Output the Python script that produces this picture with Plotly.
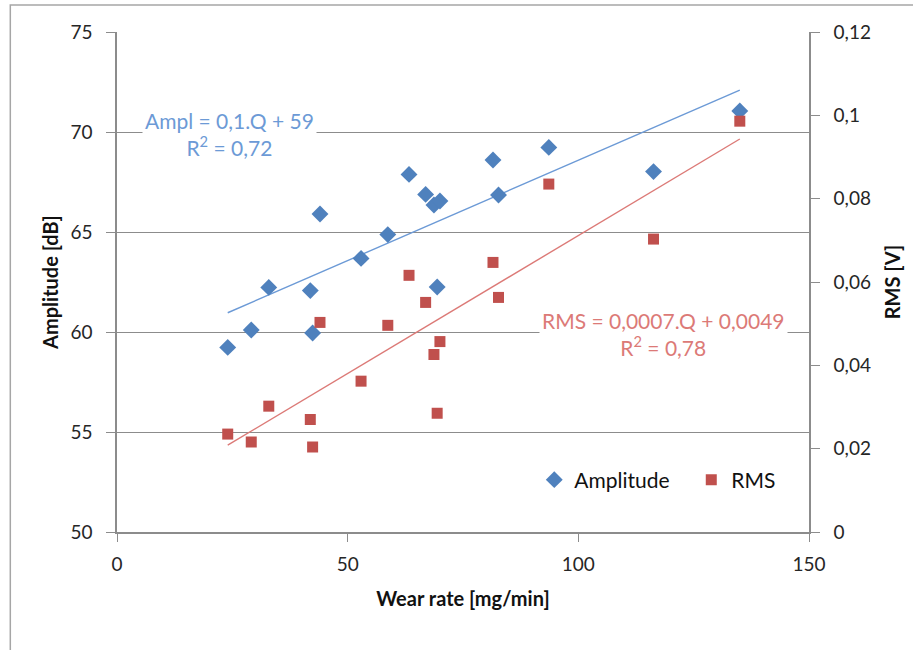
import numpy as np
import plotly.graph_objects as go

# Data
wear_rate = [24.0, 29.1, 32.9, 41.9, 42.4, 44.0, 52.9, 58.7, 63.3, 66.9,
             68.7, 70.0, 69.4, 81.5, 82.7, 93.6, 116.3, 135.0]
amplitude = [59.23, 60.1, 62.23, 62.07, 59.95, 65.9, 63.68, 64.87, 67.88, 66.88,
             66.35, 66.55, 62.25, 68.6, 66.85, 69.23, 68.02, 71.05]
rms = [0.0235, 0.0216, 0.0302, 0.0270, 0.0204, 0.0503, 0.0362, 0.0496, 0.0616, 0.0551,
       0.0426, 0.0457, 0.0285, 0.0647, 0.0563, 0.0835, 0.0703, 0.0986]

ampl_label = "Ampl = 0,1.Q + 59<br>R<sup>2</sup> = 0,72"
rms_label = "RMS = 0,0007.Q + 0,0049<br>R<sup>2</sup> = 0,78"

x_ticks = [0, 50, 100, 150]

BLUE = "#4F81BD"
RED = "#C0504D"
FONT = "Lato"
GRID = "#8C8C8C"

# least-squares trend lines (as Excel does)
xa = np.array(wear_rate)
ka, ba = np.polyfit(xa, np.array(amplitude), 1)
kr, br = np.polyfit(xa, np.array(rms), 1)
xt = [xa.min(), xa.max()]

fig = go.Figure()
fig.add_trace(go.Scatter(x=xt, y=[ka * v + ba for v in xt], mode="lines",
                         line=dict(color="#6C9AD6", width=1.4), showlegend=False,
                         hoverinfo="skip"))
fig.add_trace(go.Scatter(x=xt, y=[kr * v + br for v in xt], mode="lines", yaxis="y2",
                         line=dict(color="#DC7A77", width=1.4), showlegend=False,
                         hoverinfo="skip"))
fig.add_trace(go.Scatter(x=wear_rate, y=amplitude, mode="markers", name="Amplitude",
                         marker=dict(symbol="diamond", size=13, color=BLUE)))
fig.add_trace(go.Scatter(x=wear_rate, y=rms, mode="markers", name="RMS", yaxis="y2",
                         marker=dict(symbol="square", size=11, color=RED)))

tickfont = dict(family=FONT, size=19, color="#262626")
titlefont = dict(family=FONT, size=20, color="#111111", weight="bold")

fig.update_layout(
    width=913, height=650,
    margin=dict(l=117, r=102, t=32, b=118),
    paper_bgcolor="white", plot_bgcolor="white",
    separators=", ",
    font=dict(family=FONT),
    xaxis=dict(range=[0, 150], tickvals=x_ticks, showgrid=False, zeroline=False,
               showline=True, linecolor=GRID, linewidth=1.5,
               ticks="outside", ticklen=8, tickcolor=GRID, ticklabelstandoff=6,
               tickfont=tickfont,
               title=dict(text="Wear rate [mg/min]", font=titlefont, standoff=18)),
    yaxis=dict(range=[50, 75], dtick=5, showgrid=True, gridcolor=GRID, gridwidth=1.3,
               zeroline=False, showline=True, linecolor=GRID, linewidth=1.5,
               ticks="outside", ticklen=9, tickcolor=GRID, ticklabelstandoff=10,
               tickfont=tickfont,
               title=dict(text="Amplitude [dB]", font=titlefont, standoff=6)),
    yaxis2=dict(range=[0, 0.12], dtick=0.02, overlaying="y", side="right",
                showgrid=False, zeroline=False, showline=True, linecolor=GRID,
                linewidth=1.5, ticks="outside", ticklen=9, tickcolor=GRID,
                ticklabelstandoff=10, tickfont=tickfont,
                title=dict(text="RMS [V]", font=titlefont, standoff=16)),
    legend=dict(orientation="h", x=0.603, y=0.104, xanchor="left", yanchor="middle",
                bgcolor="rgba(0,0,0,0)", font=dict(family=FONT, size=21, color="#111111"),
                itemwidth=30, tracegroupgap=0, entrywidth=112, entrywidthmode="pixels"),
    showlegend=True,
)

# outer chart border
fig.add_shape(type="rect", xref="paper", yref="paper",
              x0=(10 - 117) / 694, x1=(930 - 117) / 694,
              y0=(532 - 680) / 500, y1=(532 - 5) / 500,
              line=dict(color="#A6A6A6", width=1.5), fillcolor="rgba(0,0,0,0)", layer="below")

fig.add_annotation(x=(230 - 117) / 694, y=(532 - 134) / 500, xref="paper", yref="paper",
                   xanchor="center", yanchor="middle",
                   text=ampl_label, showarrow=False, align="center",
                   font=dict(family=FONT, size=21, color="#6C9AD6"),
                   bgcolor="white", borderpad=2)
fig.add_annotation(x=(665 - 117) / 694, y=(532 - 334) / 500, xref="paper", yref="paper",
                   xanchor="center", yanchor="middle",
                   text=rms_label, showarrow=False, align="center",
                   font=dict(family=FONT, size=21, color="#DC7A77"),
                   bgcolor="white", borderpad=2)

fig.write_html("out.html")
